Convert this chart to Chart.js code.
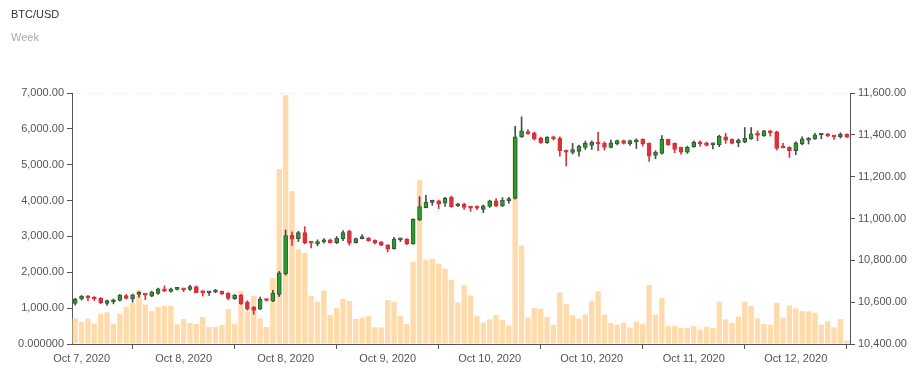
<!DOCTYPE html>
<html>
<head>
<meta charset="utf-8">
<script src="https://cdn.jsdelivr.net/npm/chart.js@4"></script>
<style>
  body { margin: 0; background: #fff; }
  #wrap { position: relative; width: 920px; height: 369px; }
  .hdr { position: absolute; left: 11px; font: 11px 'Liberation Sans', Arial, sans-serif; line-height: 13px; }
  #titulo { top: 8px; color: #333; }
  #subtitulo { top: 31px; color: #aaa; }
</style>
</head>
<body>
<div id="wrap">
  <canvas id="grafico" width="920" height="369"></canvas>
  <div class="hdr" id="titulo">BTC/USD</div>
  <div class="hdr" id="subtitulo">Week</div>
</div>
<script>
// hourly candles, first one on Oct 7, 2020
const startHour = Date.UTC(2020, 9, 7, 8);
const xTickLabels = ['Oct 7, 2020', 'Oct 8, 2020', 'Oct 8, 2020', 'Oct 9, 2020', 'Oct 10, 2020', 'Oct 10, 2020', 'Oct 11, 2020', 'Oct 12, 2020'];

const volume = [
  714, 621, 705, 566, 844, 881, 566, 844, 1039, 1141, 1512, 1104, 918, 1030, 1067, 1067, 547, 696, 584, 557,
  751, 473, 473, 529, 974, 566, 1475, 900, 1345, 714, 473, 1836, 4879, 6938, 4257, 2643, 2541, 1345, 1178, 1493,
  810, 1011, 1261, 1206, 696, 733, 779, 464, 464, 1224, 1178, 779, 557, 2291, 4582, 2347, 2374, 2235, 2096, 1790,
  1159, 1642, 1354, 788, 603, 686, 807, 668, 519, 5750, 2745, 733, 1002, 983, 751, 538, 1438, 1122, 798, 705,
  825, 1206, 1475, 816, 584, 538, 594, 454, 621, 566, 1651, 816, 1280, 501, 501, 445, 454, 501, 399, 482,
  445, 1178, 686, 584, 761, 1178, 1057, 714, 557, 538, 1150, 733, 1076, 992, 918, 909, 872, 538, 631, 464,
  696, 93
];
const open = [
  10594, 10615, 10629, 10624, 10619, 10594, 10602, 10608, 10632, 10616, 10637, 10638, 10629, 10642, 10664, 10651, 10661, 10664, 10661, 10675,
  10650, 10645, 10648, 10653, 10643, 10616, 10634, 10600, 10576, 10567, 10615, 10605, 10637, 10735, 10920, 10904, 10933, 10890, 10879, 10888,
  10898, 10885, 10904, 10939, 10885, 10904, 10907, 10896, 10888, 10874, 10856, 10898, 10902, 10879, 10993, 11052, 11077, 11085, 11073, 11101,
  11060, 11069, 11057, 11054, 11044, 11058, 11085, 11060, 11085, 11096, 11390, 11416, 11410, 11386, 11362, 11387, 11383, 11325, 11316, 11321,
  11340, 11349, 11365, 11359, 11340, 11356, 11372, 11356, 11367, 11378, 11359, 11302, 11311, 11378, 11359, 11340, 11317, 11343, 11365, 11362,
  11352, 11352, 11391, 11378, 11362, 11365, 11381, 11407, 11395, 11419, 11414, 11340, 11340, 11324, 11356, 11375, 11381, 11399, 11403, 11394,
  11391, 11403
];
const high = [
  10619, 10632, 10632, 10627, 10622, 10610, 10615, 10637, 10637, 10639, 10651, 10640, 10653, 10667, 10678, 10667, 10670, 10664, 10680, 10678,
  10650, 10650, 10661, 10653, 10646, 10637, 10637, 10607, 10580, 10624, 10616, 10656, 10747, 10945, 10936, 10939, 10961, 10891, 10898, 10904,
  10902, 10914, 10942, 10945, 10907, 10923, 10909, 10898, 10890, 10875, 10910, 10906, 10904, 10999, 11104, 11111, 11088, 11088, 11101, 11108,
  11073, 11073, 11058, 11060, 11065, 11088, 11095, 11100, 11101, 11441, 11486, 11425, 11413, 11389, 11392, 11394, 11391, 11327, 11359, 11351,
  11370, 11371, 11413, 11367, 11375, 11375, 11375, 11375, 11381, 11381, 11362, 11324, 11397, 11380, 11362, 11341, 11346, 11371, 11371, 11365,
  11362, 11399, 11407, 11381, 11381, 11435, 11435, 11419, 11422, 11422, 11418, 11359, 11343, 11367, 11391, 11387, 11407, 11407, 11407, 11394,
  11410, 11405
];
const low = [
  10586, 10610, 10607, 10608, 10592, 10584, 10592, 10605, 10615, 10600, 10624, 10612, 10626, 10637, 10650, 10648, 10658, 10650, 10656, 10645,
  10629, 10632, 10645, 10637, 10611, 10613, 10589, 10561, 10542, 10564, 10605, 10602, 10627, 10729, 10871, 10890, 10879, 10859, 10869, 10882,
  10882, 10879, 10894, 10872, 10882, 10902, 10891, 10879, 10869, 10840, 10853, 10890, 10875, 10877, 10990, 11050, 11063, 11047, 11058, 11053,
  11057, 11044, 11034, 11042, 11028, 11053, 11057, 11057, 11073, 11093, 11387, 11402, 11375, 11359, 11359, 11375, 11298, 11251, 11308, 11298,
  11330, 11330, 11324, 11327, 11337, 11352, 11356, 11349, 11335, 11346, 11273, 11286, 11308, 11349, 11314, 11308, 11311, 11340, 11346, 11346,
  11333, 11343, 11359, 11356, 11343, 11362, 11378, 11372, 11392, 11394, 11327, 11337, 11292, 11305, 11352, 11356, 11378, 11381, 11391, 11378,
  11384, 11387
];
const close = [
  10614, 10629, 10621, 10615, 10596, 10607, 10611, 10634, 10618, 10635, 10640, 10634, 10648, 10664, 10653, 10664, 10665, 10659, 10675, 10646,
  10646, 10648, 10651, 10638, 10618, 10634, 10592, 10567, 10561, 10615, 10608, 10643, 10740, 10918, 10901, 10933, 10882, 10882, 10890, 10898,
  10885, 10906, 10933, 10882, 10904, 10912, 10893, 10882, 10872, 10853, 10902, 10902, 10879, 10996, 11057, 11079, 11085, 11068, 11096, 11057,
  11069, 11053, 11049, 11049, 11061, 11084, 11060, 11088, 11095, 11390, 11419, 11406, 11381, 11362, 11389, 11381, 11324, 11317, 11329, 11346,
  11359, 11365, 11356, 11340, 11362, 11372, 11359, 11372, 11375, 11356, 11298, 11318, 11378, 11353, 11330, 11317, 11340, 11365, 11356, 11349,
  11359, 11394, 11375, 11359, 11375, 11383, 11405, 11397, 11419, 11410, 11335, 11337, 11324, 11362, 11381, 11384, 11400, 11400, 11395, 11391,
  11403, 11389
];

const horas = volume.map((v, i) => new Date(startHour + i * 3600000).toISOString().slice(0, 13));

// label sits halfway between the tick marks (every 16 hours)
const tickMarks = xTickLabels.map((t, k) => 9 + 16 * k);
const labelSpots = xTickLabels.map((t, k) => 1 + 16 * k);

const VERDE = '#25a125', VERDE_BORDE = '#3f4d47';
const ROJO = '#d7333b';
const subida = open.map((o, i) => close[i] >= o);

Chart.defaults.font.family = "'Liberation Sans', Arial, sans-serif";
Chart.defaults.font.size = 11;
Chart.defaults.color = '#555';

const ctx = document.getElementById('grafico').getContext('2d');

new Chart(ctx, {
  type: 'bar',
  data: {
    labels: horas,
    datasets: [
      {
        label: 'Volume',
        data: volume,
        yAxisID: 'y',
        backgroundColor: '#ffdaab',
        categoryPercentage: 1,
        barPercentage: 0.84,
        grouped: false,
        order: 3
      },
      {
        label: 'Wick',
        data: low.map((l, i) => [l, high[i]]),
        yAxisID: 'y1',
        backgroundColor: subida.map(s => s ? '#4a4f4c' : ROJO),
        barThickness: 1,
        grouped: false,
        order: 2
      },
      {
        label: 'Body',
        data: open.map((o, i) => [o, close[i]]),
        yAxisID: 'y1',
        backgroundColor: subida.map(s => s ? VERDE : ROJO),
        borderColor: subida.map(s => s ? VERDE_BORDE : ROJO),
        borderWidth: 1,
        borderSkipped: false,
        barThickness: 4,
        minBarLength: 2,
        grouped: false,
        order: 1
      }
    ]
  },
  options: {
    responsive: false,
    animation: false,
    layout: { padding: { top: 93, left: 0, right: 0, bottom: 0 } },
    plugins: {
      legend: { display: false },
      tooltip: { enabled: false }
    },
    scales: {
      x: {
        offset: true,
        grid: {
          offset: false,
          drawOnChartArea: false,
          tickLength: 5,
          tickColor: (c) => (c.tick && labelSpots.includes(c.tick.value)) ? 'rgba(0,0,0,0)' : '#555'
        },
        border: { color: '#555', width: 1 },
        ticks: {
          autoSkip: false,
          maxRotation: 0,
          minRotation: 0,
          padding: 3,
          color: '#555',
          callback: (value) => {
            const k = labelSpots.indexOf(value);
            return k >= 0 ? xTickLabels[k] : '';
          }
        },
        afterBuildTicks: (scale) => {
          scale.ticks = labelSpots.concat(tickMarks).sort((a, b) => a - b).map(v => ({ value: v }));
        },
        afterFit: (scale) => { scale.height = 25; }
      },
      y: {
        position: 'left',
        min: 0,
        max: 7000,
        ticks: {
          stepSize: 1000,
          padding: 3,
          color: '#555',
          callback: (v) => v === 0 ? '0.000000' : v.toLocaleString('en-US', { minimumFractionDigits: 2, maximumFractionDigits: 2 })
        },
        grid: {
          tickLength: 5,
          tickColor: '#555',
          color: (c) => (c.tick && c.tick.value === 7000) ? 'rgba(255,185,120,0.45)' : 'rgba(0,0,0,0)'
        },
        border: { color: '#555', width: 1, dash: [1, 2] },
        afterFit: (scale) => { scale.width = 72; }
      },
      y1: {
        position: 'right',
        min: 10400,
        max: 11600,
        ticks: {
          stepSize: 200,
          padding: 3,
          color: '#555',
          callback: (v) => v.toLocaleString('en-US', { minimumFractionDigits: 2, maximumFractionDigits: 2 })
        },
        grid: { drawOnChartArea: false, tickLength: 5, tickColor: '#555' },
        border: { color: '#555', width: 1 },
        afterFit: (scale) => { scale.width = 70; }
      }
    }
  }
});
</script>
</body>
</html>
